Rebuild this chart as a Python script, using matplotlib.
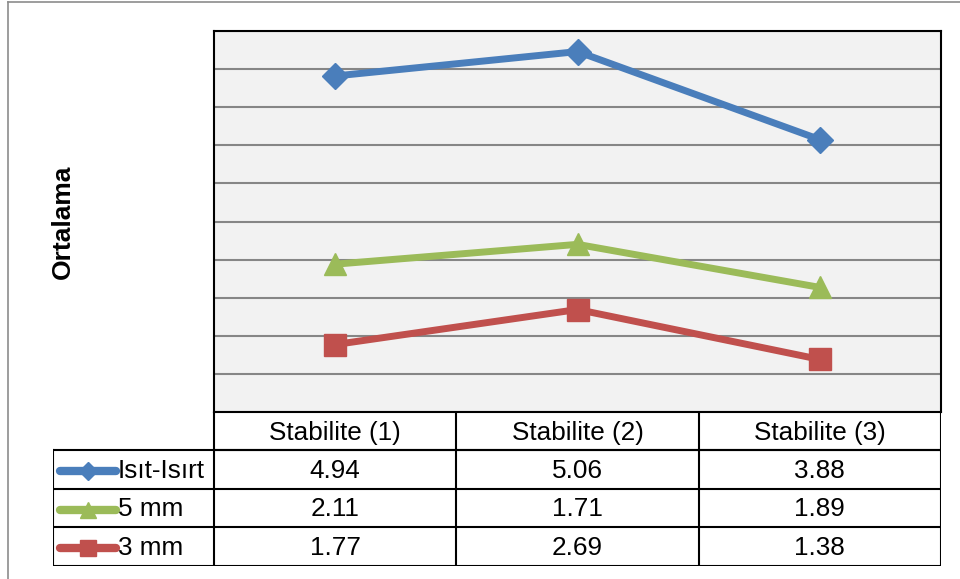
import numpy as np
import matplotlib.pyplot as plt
from matplotlib.lines import Line2D

plt.rcParams['font.family'] = ['Liberation Sans', 'DejaVu Sans']

categories = ['Stabilite (1)', 'Stabilite (2)', 'Stabilite (3)']
series_names = ['Isıt-Isırt', '5 mm', '3 mm']
isit = [4.94, 5.06, 3.88]
mm5 = [2.11, 1.71, 1.89]
mm3 = [1.77, 2.69, 1.38]

colors = ['#4A7EBB', '#9BBB59', '#C0504D']
markers = ['D', '^', 's']
msizes = [13, 16, 16]

W, H = 960, 579
fig = plt.figure(figsize=(W / 100, H / 100), dpi=100)


def px_axes(x0, y0, x1, y1):
    # axes placed by pixel box (top-left origin)
    return fig.add_axes([x0 / W, 1 - y1 / H, (x1 - x0) / W, (y1 - y0) / H])


# outer chart border
border = px_axes(8, 2, 960, 579)
border.set_xticks([])
border.set_yticks([])
for side, sp in border.spines.items():
    sp.set_color('#8C8C8C')
    sp.set_linewidth(1.2)
    if side in ('right', 'bottom'):
        sp.set_visible(False)
border.patch.set_alpha(0)

# stacked line chart
ax = px_axes(214, 31, 941, 412)
ax.set_facecolor('#F2F2F2')
x = np.arange(len(categories))
stack = np.cumsum([mm3, mm5, isit], axis=0)  # bottom to top
vals = {'3 mm': stack[0], '5 mm': stack[1], 'Isıt-Isırt': stack[2]}

ax.set_xlim(-0.5, len(categories) - 0.5)
ax.set_ylim(0, 10)
ax.set_yticks(np.arange(0, 11, 1))
ax.yaxis.grid(True, color='#868686', linewidth=1.5)
ax.set_axisbelow(True)
ax.set_xticks([])
ax.tick_params(axis='y', left=False, labelleft=False)
for sp in ax.spines.values():
    sp.set_color('black')
    sp.set_linewidth(1.5)

for name, c, m, ms in zip(series_names, colors, markers, msizes):
    ax.plot(x, vals[name], color=c, lw=5, marker=m, markersize=ms,
            solid_capstyle='round', zorder=3)

fig.text(63 / W, 1 - 222 / H, 'Ortalama', rotation=90, ha='center',
         va='center', fontsize=19, fontweight='bold')

# data table below the plot
tb = px_axes(53, 412, 941, 566)
tb.set_xlim(53, 941)
tb.set_ylim(566, 412)
tb.axis('off')
col_edges = np.linspace(214, 941, len(categories) + 1)
row_edges = [412, 450, 489, 527, 566]
lk = dict(color='black', lw=1.5)
tb.plot([214, 941], [450, 450], **lk)
for xe in col_edges:
    tb.plot([xe, xe], [412, 566], **lk)
for ye in row_edges[1:]:
    tb.plot([53, 941], [ye, ye], **lk)
tb.plot([53, 53], [450, 566], **lk)

fs = 18.8
for j, cat in enumerate(categories):
    cx = (col_edges[j] + col_edges[j + 1]) / 2
    tb.text(cx, (row_edges[0] + row_edges[1]) / 2 + 2, cat, ha='center',
            va='center', fontsize=fs)

table_rows = [isit, mm5, mm3]
for i, (name, row) in enumerate(zip(series_names, table_rows)):
    cy = (row_edges[i + 1] + row_edges[i + 2]) / 2 + 1.5
    for j, v in enumerate(row):
        cx = (col_edges[j] + col_edges[j + 1]) / 2
        tb.text(cx, cy, f'{v:.2f}', ha='center', va='center', fontsize=fs)
    # legend key
    tb.add_line(Line2D([60, 116], [cy, cy], color=colors[i], lw=6,
                       solid_capstyle='round'))
    tb.plot([88], [cy], marker=markers[i], color=colors[i],
            markersize=msizes[i] - 4)
    tb.text(118, cy, name, ha='left', va='center', fontsize=fs)

fig.savefig('out.png', dpi=100)
